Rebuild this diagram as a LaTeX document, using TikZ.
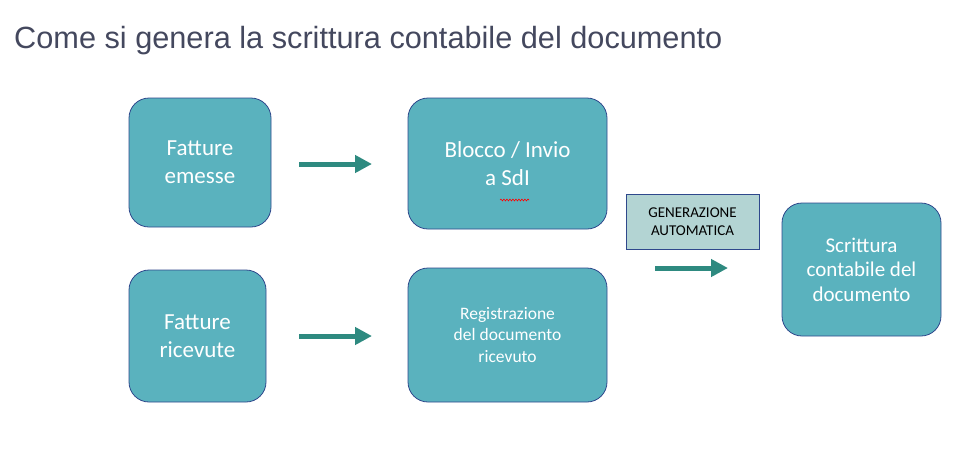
\documentclass[tikz,border=0pt]{standalone}
\usepackage{fontspec}
\setmainfont{Carlito}
\newfontfamily\titlefont{Liberation Sans}
\usetikzlibrary{arrows.meta,decorations.pathmorphing}
\definecolor{boxfill}{RGB}{90,178,190}
\definecolor{boxline}{RGB}{47,72,140}
\definecolor{arrowcol}{RGB}{46,138,128}
\definecolor{genfill}{RGB}{179,212,211}
\definecolor{titlecol}{RGB}{68,72,94}
\tikzset{
  tealbox/.style={draw=boxline, line width=0.8pt, fill=boxfill, rounded corners=20pt,
    text=white, align=center, inner sep=0pt, font=\fontsize{23}{27.7}\selectfont},
  genbox/.style={draw=boxline, line width=0.8pt, fill=genfill, text=black,
    align=center, inner sep=0pt, font=\fontsize{15}{18.5}\selectfont},
  bigarrow/.style={draw=arrowcol, line width=5pt, -{Triangle[length=17pt,width=17pt]}}
}
\begin{document}
\begin{tikzpicture}[x=1pt,y=-1pt]
\useasboundingbox (0,0) rectangle (979,472);
\node[anchor=base west, text=titlecol, font=\titlefont\fontsize{30.7}{34}\selectfont, inner sep=0pt] (title) at (14,48.5) {Come si genera la scrittura contabile del documento};

\node[tealbox, minimum width=142pt, minimum height=129pt] (emesse) at (200,162.5) {Fatture\\emesse};
\node[tealbox, minimum width=199pt, minimum height=131pt] (blocco) at (507.5,163.5) {Blocco / Invio\\a SdI};
\node[tealbox, minimum width=137pt, minimum height=132pt] (ricevute) at (197.5,336) {Fatture\\ricevute};
\node[tealbox, minimum width=199pt, minimum height=134pt, font=\fontsize{17.5}{21.7}\selectfont] (registr) at (507.5,335) {Registrazione\\del documento\\ricevuto};
\node[genbox, minimum width=133pt, minimum height=55pt] (gen) at (692.5,221.5) {GENERAZIONE\\AUTOMATICA};
\node[tealbox, minimum width=159pt, minimum height=133pt, font=\fontsize{21}{24.5}\selectfont] (scrittura) at (861.5,269.5) {Scrittura\\contabile del\\documento};

\coordinate (a1s) at (299,164);
\coordinate (a1e) at (372,164);
\coordinate (a2s) at (299,336);
\coordinate (a2e) at (372,336);
\coordinate (a3s) at (655,268);
\coordinate (a3e) at (728,268);
\draw[bigarrow] (a1s) -- (a1e);
\draw[bigarrow] (a2s) -- (a2e);
\draw[bigarrow] (a3s) -- (a3e);

\coordinate (w1) at (500,200);
\coordinate (w2) at (529,200);
\draw[red, line width=0.6pt, decorate, decoration={snake, amplitude=0.9pt, segment length=3pt}] (w1) -- (w2);
\end{tikzpicture}
\end{document}
